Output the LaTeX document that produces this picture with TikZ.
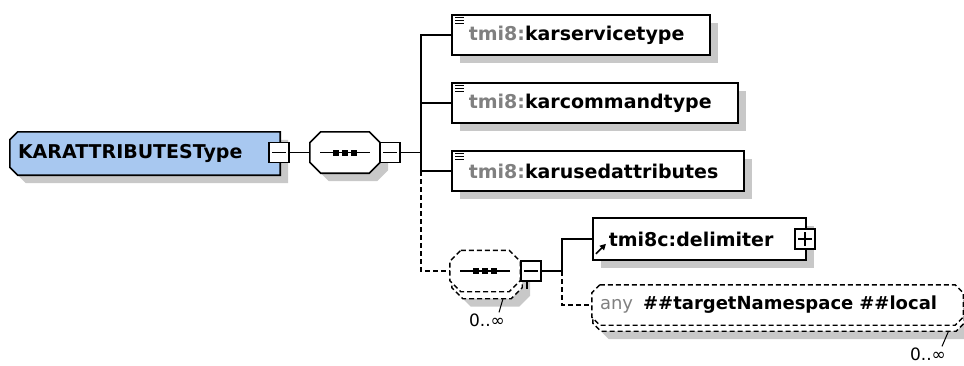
\documentclass[tikz,border=0pt]{standalone}
\usepackage{fontspec}
\setsansfont{DejaVu Sans}
\usetikzlibrary{positioning,shadows,arrows.meta}

\definecolor{typeblue}{RGB}{168,200,240}
\definecolor{shadowgray}{RGB}{200,200,200}
\definecolor{nsgray}{RGB}{128,128,128}

\pgfdeclarelayer{background}
\pgfsetlayers{background,main}

\newcommand\nsname[1]{\textcolor{nsgray}{#1}}

\tikzset{
  conn/.style={line width=1.5pt},
  boxline/.style={line width=1.6pt},
  dashline/.style={line width=1.4pt, dash pattern=on 5pt off 3pt},
  boxshadow/.style={drop shadow={shadow xshift=8pt, shadow yshift=-8pt, opacity=1, fill=shadowgray}},
  labelfont/.style={font=\sffamily\bfseries\fontsize{19}{22}\selectfont},
  typebox/.style={minimum width=270, minimum height=43, text width=254,
    inner xsep=8, inner ysep=0, align=left, labelfont},
  seqbox/.style={minimum width=70, minimum height=41, inner sep=0},
  elbox/.style={draw, boxline, fill=white, boxshadow, anchor=west,
    minimum height=40, inner xsep=17, inner ysep=0, align=left, labelfont},
  anybox/.style={minimum width=371, minimum height=40, text width=355,
    inner xsep=8, inner ysep=0, align=left, font=\sffamily\fontsize{18}{21}\selectfont},
  minusbox/.style={draw, boxline, fill=white, minimum size=20, inner sep=0,
    path picture={\draw[line width=1.2pt] ([xshift=3]path picture bounding box.west)
      -- ([xshift=-3]path picture bounding box.east);}},
  plusbox/.style={draw, boxline, fill=white, minimum size=20, inner sep=0,
    path picture={\draw[line width=1.2pt] ([xshift=3]path picture bounding box.west)
      -- ([xshift=-3]path picture bounding box.east);
      \draw[line width=1.2pt] ([yshift=-3]path picture bounding box.north)
      -- ([yshift=3]path picture bounding box.south);}},
  cardlabel/.style={font=\sffamily\fontsize{17}{20}\selectfont, inner sep=1pt},
  flatshadow/.style={fill=shadowgray, transform canvas={shift={(8pt,-8pt)}}}
}

% octagon round a node: #2 = cut on the west side, #3 = cut on the east side
\def\octpath#1#2#3{([xshift=#2]#1.north west) -- ([xshift=-#3]#1.north east)
  -- ([yshift=-#3]#1.north east) -- ([yshift=#3]#1.south east)
  -- ([xshift=-#3]#1.south east) -- ([xshift=#2]#1.south west)
  -- ([yshift=#2]#1.south west) -- ([yshift=-#2]#1.north west) -- cycle}

% three dots of a sequence compositor
\newcommand\seqsym[1]{%
  \draw[line width=1.4pt] ([xshift=-25]#1.center) -- ([xshift=25]#1.center);
  \foreach \dx in {-9,0,9}
    \fill ([xshift=\dx]#1.center) +(-3,-3) rectangle +(3,3);
}

\begin{document}
\begin{tikzpicture}[x=1pt,y=-1pt]
  \useasboundingbox (0,0) rectangle (964,365);

  % complex type and its sequence
  \node[typebox] (kartype) at (145,153.5) {KARATTRIBUTESType};
  \node[seqbox] (seq) at (345,152.5) {};
  \node[minusbox] (typeminus) at (279,152.5) {};
  \node[minusbox] (seqminus) at (390,152.5) {};
  \coordinate (fork) at (421,152.5);

  % child elements
  \node[elbox, text width=224] (svc) at (451,35) {\nsname{tmi8:}karservicetype};
  \node[elbox, text width=252] (cmd) at (451,103) {\nsname{tmi8:}karcommandtype};
  \node[elbox, text width=258] (used) at (451,171) {\nsname{tmi8:}karusedattributes};
  \foreach \el in {svc,cmd,used}
    \foreach \dy in {3,6,9}
      \draw[line width=1.2pt] ([xshift=4,yshift=-\dy]\el.north west) -- ++(9,0);

  % optional repeated sequence
  \node[seqbox] (seqmanyb) at (487,278) {};
  \node[seqbox] (seqmany) at (485,271) {};
  \node[minusbox] (manyminus) at (531,271) {};
  \draw[conn] ([xshift=-4]manyminus.south) -- ++(0,7);
  \coordinate (fork2) at (562,271);
  \node[cardlabel] (seqcard) at (487,320) {0..∞};

  \node[elbox, text width=181, inner xsep=16, minimum height=42] (delim) at (592,239) {tmi8c:delimiter};
  \node[plusbox] (delimplus) at (805,239) {};
  \draw[line width=1.6pt, -{Triangle[length=6pt,width=6pt]}] ([xshift=4,yshift=7]delim.south west) -- ++(10,-10);

  \node[anybox] (anyback) at (778.5,311) {};
  \node[anybox] (anyel) at (777.5,305)
    {\textcolor{nsgray}{any}\hspace{10pt}\bfseries\#\#targetNamespace \#\#local};
  \node[cardlabel] (anycard) at (928,354) {0..∞};

  % outlines behind the texts
  \begin{pgfonlayer}{background}
    \fill[flatshadow] \octpath{kartype}{8}{0};
    \filldraw[boxline, fill=typeblue] \octpath{kartype}{8}{0};
    \fill[flatshadow] \octpath{seq}{11}{11};
    \filldraw[boxline, fill=white] \octpath{seq}{11}{11};
    \fill[flatshadow] \octpath{seqmanyb}{11}{11};
    \filldraw[dashline, fill=white] \octpath{seqmanyb}{11}{11};
    \filldraw[dashline, fill=white] \octpath{seqmany}{11}{11};
    \fill[flatshadow] \octpath{anyback}{8}{8};
    \filldraw[dashline, fill=white] \octpath{anyback}{8}{8};
    \filldraw[dashline, fill=white] \octpath{anyel}{8}{8};
  \end{pgfonlayer}
  \seqsym{seq}
  \seqsym{seqmany}

  % connectors
  \draw[conn] (typeminus.east) -- (seq.west);
  \draw[conn] (seqminus.east) -- (fork);
  \draw[conn] (fork) |- (svc.west);
  \draw[conn] (fork) |- (cmd.west);
  \draw[conn] (fork) |- (used.west);
  \draw[dashline] (fork |- used.west) |- (seqmany.west);
  \draw[conn] (manyminus.east) -- (fork2) |- (delim.west);
  \draw[dashline] (fork2) |- (anyel.west);
  \draw[line width=1pt] ([xshift=16]seqmanyb.south) -- ([xshift=12]seqcard.north);
  \draw[line width=1pt] ([xshift=170]anyback.south) -- ([xshift=14]anycard.north);
\end{tikzpicture}
\end{document}
